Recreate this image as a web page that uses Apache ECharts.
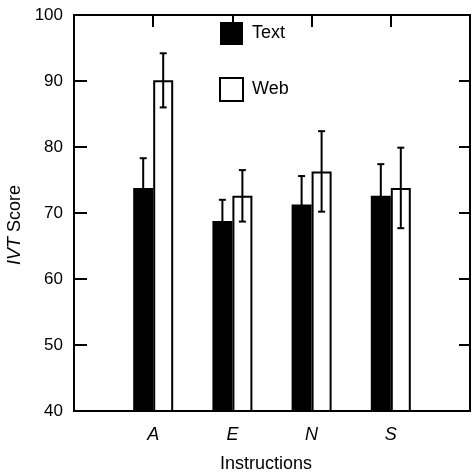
<!DOCTYPE html>
<html>
<head>
<meta charset="utf-8">
<script src="https://cdn.jsdelivr.net/npm/echarts@6/dist/echarts.min.js"></script>
<style>html,body{margin:0;padding:0;background:#fff}#c{width:471px;height:472px}</style>
</head>
<body>
<div id="c"></div>
<script>
const categories = ['', 'A', 'E', 'N', 'S', ''];
const textValues = [73.8, 68.8, 71.3, 72.6];
const textErr = [4.5, 3.2, 4.3, 4.8];
const webValues = [90.1, 72.6, 76.3, 73.8];
const webErr = [4.1, 3.9, 6.1, 6.1];
const yTicks = [40, 50, 60, 70, 80, 90, 100];

const FONT = 'Liberation Sans, Arial, sans-serif';
const chart = echarts.init(document.getElementById('c'), null, {renderer: 'canvas'});

const barData = vals => categories.map((c, i) => (i >= 1 && i <= vals.length) ? vals[i - 1] : '-');
const errData = (vals, errs) => vals.map((v, i) => [i + 1, v - errs[i], v + errs[i]]);

function errRender(offset) {
  return function (params, api) {
    const lo = api.coord([api.value(0), api.value(1)]);
    const hi = api.coord([api.value(0), api.value(2)]);
    const x = lo[0] + offset;
    const w = 3.5;
    const style = {stroke: '#000', lineWidth: 2};
    return {
      type: 'group',
      children: [
        {type: 'line', shape: {x1: x, y1: lo[1], x2: x, y2: hi[1]}, style},
        {type: 'line', shape: {x1: x - w, y1: hi[1], x2: x + w, y2: hi[1]}, style},
        {type: 'line', shape: {x1: x - w, y1: lo[1], x2: x + w, y2: lo[1]}, style}
      ]
    };
  };
}

const option = {
  animation: false,
  backgroundColor: '#fff',
  textStyle: {fontFamily: FONT},
  grid: {
    left: 74, right: 1, top: 15, bottom: 61, containLabel: false, outerBoundsMode: 'none',
    show: true, borderColor: '#000', borderWidth: 2, backgroundColor: 'transparent'
  },
  legend: {
    left: 219, top: 22, padding: 0, orient: 'vertical', itemWidth: 23, itemHeight: 23, itemGap: 32,
    icon: 'rect',
    textStyle: {fontFamily: FONT, fontSize: 18, color: '#000', padding: [0, 0, 0, 4]},
    data: [
      {name: 'Text', itemStyle: {color: '#000', borderColor: '#000', borderWidth: 0}},
      {name: 'Web', itemStyle: {color: '#fff', borderColor: '#000', borderWidth: 2}}
    ]
  },
  xAxis: [
    {
      type: 'category', data: categories, boundaryGap: false, position: 'bottom',
      axisLine: {lineStyle: {color: '#000', width: 2}},
      axisTick: {show: false},
      axisLabel: {fontFamily: FONT, fontSize: 18, fontStyle: 'italic', color: '#000', margin: 15},
      name: 'Instructions', nameLocation: 'middle', nameGap: 44,
      nameTextStyle: {fontFamily: FONT, fontSize: 18, color: '#000', padding: [0, 12, 0, 0]}
    },
    {
      type: 'category', data: categories, boundaryGap: false, position: 'top',
      axisLine: {lineStyle: {color: '#000', width: 2}},
      axisTick: {show: true, inside: true, length: 12, lineStyle: {color: '#000', width: 2}},
      axisLabel: {show: false}
    }
  ],
  yAxis: [
    {
      type: 'value', min: yTicks[0], max: yTicks[yTicks.length - 1], interval: 10, position: 'left',
      splitLine: {show: false},
      axisLine: {show: true, lineStyle: {color: '#000', width: 2}},
      axisTick: {show: true, inside: true, length: 13, lineStyle: {color: '#000', width: 2}},
      axisLabel: {fontFamily: FONT, fontSize: 17, color: '#000', margin: 11},
      name: '{i|IVT} Score', nameLocation: 'middle', nameGap: 48,
      nameTextStyle: {
        fontFamily: FONT, fontSize: 18, color: '#000', padding: [0, 24, 0, 0],
        rich: {i: {fontFamily: FONT, fontSize: 18, fontStyle: 'italic', color: '#000'}}
      }
    },
    {
      type: 'value', min: yTicks[0], max: yTicks[yTicks.length - 1], interval: 10, position: 'right',
      splitLine: {show: false},
      axisLine: {show: true, lineStyle: {color: '#000', width: 2}},
      axisTick: {show: true, inside: true, length: 11, lineStyle: {color: '#000', width: 2}},
      axisLabel: {show: false}
    }
  ],
  series: [
    {
      name: 'Text', type: 'bar', data: barData(textValues), barWidth: 20, barGap: '0%',
      itemStyle: {color: '#000', borderColor: '#000', borderWidth: 0}
    },
    {
      name: 'Web', type: 'bar', data: barData(webValues), barWidth: 20, barGap: '0%',
      itemStyle: {color: '#fff', borderColor: '#000', borderWidth: 2}
    },
    {
      name: 'TextErr', type: 'custom', renderItem: errRender(-10), data: errData(textValues, textErr),
      encode: {x: 0, y: [1, 2]}, z: 5, silent: true
    },
    {
      name: 'WebErr', type: 'custom', renderItem: errRender(10), data: errData(webValues, webErr),
      encode: {x: 0, y: [1, 2]}, z: 5, silent: true
    }
  ]
};
chart.setOption(option);
</script>
</body>
</html>
